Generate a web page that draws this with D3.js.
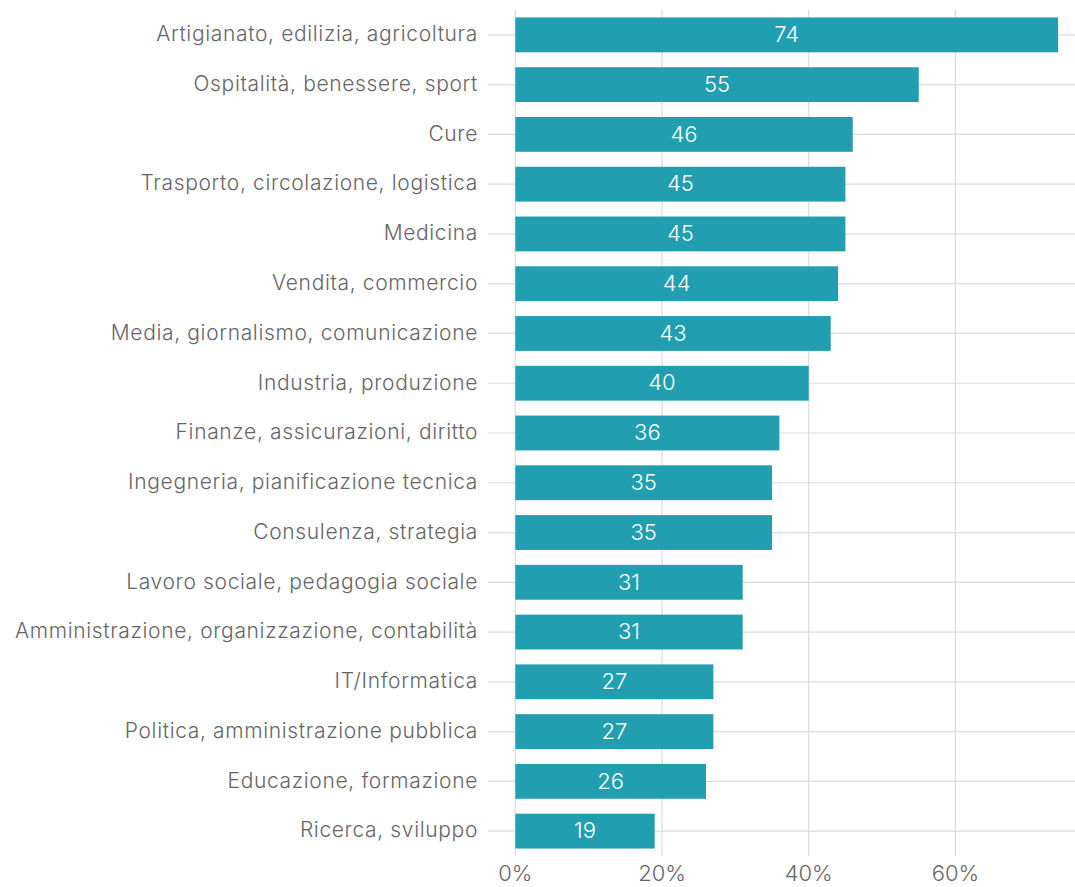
<!DOCTYPE html>
<html><head><meta charset="utf-8">
<script src="https://cdn.jsdelivr.net/npm/d3@7"></script>
<style>body{margin:0;background:#fff}svg{display:block}</style>
</head><body>
<svg id="c" width="1075" height="887"></svg>
<script>
const categories = ["Artigianato, edilizia, agricoltura","Ospitalità, benessere, sport","Cure","Trasporto, circolazione, logistica","Medicina","Vendita, commercio","Media, giornalismo, comunicazione","Industria, produzione","Finanze, assicurazioni, diritto","Ingegneria, pianificazione tecnica","Consulenza, strategia","Lavoro sociale, pedagogia sociale","Amministrazione, organizzazione, contabilità","IT/Informatica","Politica, amministrazione pubblica","Educazione, formazione","Ricerca, sviluppo"];
const values = [74,55,46,45,45,44,43,40,36,35,35,31,31,27,27,26,19];
const xTicks = [0,20,40,60];

const svg = d3.select("#c");
const font = "Inter, 'Liberation Sans', sans-serif";
const x = d3.scaleLinear().domain([0,76.3]).range([515.3,1075]);
const y = d3.scaleBand().domain(categories).range([10,856]).paddingInner(0.3).paddingOuter(0.15);

svg.append("g").selectAll("line").data(xTicks).join("line")
  .attr("x1",d=>x(d)).attr("x2",d=>x(d)).attr("y1",10).attr("y2",856)
  .attr("stroke","#dcdcdc").attr("stroke-width",1.2);
svg.append("g").selectAll("line").data(categories).join("line")
  .attr("x1",488).attr("x2",1075).attr("y1",d=>y(d)+y.bandwidth()/2).attr("y2",d=>y(d)+y.bandwidth()/2)
  .attr("stroke","#dcdcdc").attr("stroke-width",1.2);

svg.append("g").selectAll("rect").data(values).join("rect")
  .attr("x",x(0)).attr("y",(d,i)=>y(categories[i]))
  .attr("width",d=>x(d)-x(0)).attr("height",y.bandwidth())
  .attr("fill","#219eb0");

svg.append("g").selectAll("text").data(values).join("text")
  .attr("x",d=>(x(0)+x(d))/2).attr("y",(d,i)=>y(categories[i])+y.bandwidth()/2)
  .attr("dy","0.33em").attr("text-anchor","middle")
  .attr("fill","#fff").attr("font-family",font).attr("font-size",22).attr("font-weight",300)
  .text(d=>d);

svg.append("g").selectAll("text").data(categories).join("text")
  .attr("x",478).attr("y",d=>y(d)+y.bandwidth()/2).attr("dy","0.3em")
  .attr("text-anchor","end").attr("fill","#666").attr("font-family",font).attr("font-size",21).attr("font-weight",300)
  .attr("letter-spacing",0.65)
  .text(d=>d);

svg.append("g").selectAll("text").data(xTicks).join("text")
  .attr("x",d=>x(d)).attr("y",881).attr("text-anchor","middle")
  .attr("fill","#666").attr("font-family",font).attr("font-size",22).attr("font-weight",300)
  .text(d=>d+"%");
</script>
</body></html>
